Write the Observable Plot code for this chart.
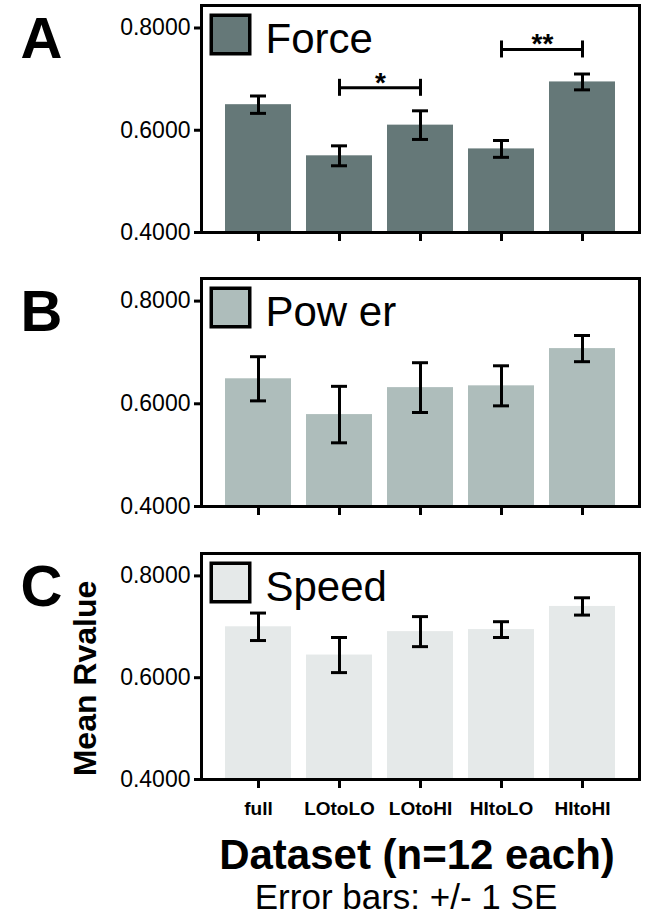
<!DOCTYPE html>
<html>
<head>
<meta charset="utf-8">
<script src="https://cdn.jsdelivr.net/npm/d3@7"></script>
<script src="https://cdn.jsdelivr.net/npm/@observablehq/plot@0.6"></script>
<style>
  html, body { margin: 0; padding: 0; background: #fff; }
  #wrap { position: relative; width: 654px; height: 922px; overflow: hidden; background: #fff;
          font-family: "Liberation Sans", Arial, sans-serif; color: #000; }
  .panel { position: absolute; left: 0; }
  .cap { position: absolute; left: 117px; width: 600px; text-align: center; line-height: 1; white-space: nowrap; }
</style>
</head>
<body>
<div id="wrap"></div>
<script>
// ---------------- data ----------------
const categories = ["full", "LOtoLO", "LOtoHI", "HItoLO", "HItoHI"];
const forceMean = [0.650, 0.550, 0.610, 0.5635, 0.6945];
const forceSE   = [0.017, 0.0195, 0.028, 0.0165, 0.0155];
const powerMean = [0.6487, 0.579, 0.6315, 0.635, 0.7075];
const powerSE   = [0.043, 0.055, 0.0485, 0.039, 0.0255];
const speedMean = [0.700, 0.6445, 0.6905, 0.6945, 0.740];
const speedSE   = [0.027, 0.0345, 0.0295, 0.0155, 0.017];
const yTicks = [0.4, 0.6, 0.8];
const yDomain = [0.4, 0.844];
const panelLetters = ["A", "B", "C"];
const seriesNames = ["Force", "Pow er", "Speed"];
const seriesColors = ["#657878", "#aebdbb", "#e5e9e9"];
const sigFrom = ["LOtoLO", "HItoLO"];
const sigTo = ["LOtoHI", "HItoHI"];
const sigLabel = ["*", "**"];
const sigLevel = [0.683, 0.758];
const yLabel = "Mean Rvalue";
const xTitle = "Dataset (n=12 each)";
const note = "Error bars: +/- 1 SE";

// ---------------- layout ----------------
const W = 654, ML = 201, MR = 15;
const padIn = 0.185, padOut = 0.27;
const step = (W - ML - MR) / (categories.length - padIn + 2 * padOut);
const panels = [
  {top: 0,   height: 260, mt: 5,  mb: 28},
  {top: 260, height: 270, mt: 18, mb: 24},
  {top: 530, height: 300, mt: 23, mb: 51}
];
const means = [forceMean, powerMean, speedMean];
const ses = [forceSE, powerSE, speedSE];
const wrap = document.getElementById("wrap");

panels.forEach((p, i) => {
  const rows = categories.map((c, k) => ({cat: c, mean: means[i][k], lo: means[i][k] - ses[i][k], hi: means[i][k] + ses[i][k]}));
  const plotH = p.height - p.mt - p.mb;
  const pxPerUnit = plotH / (yDomain[1] - yDomain[0]);
  const capV = 8.5 / pxPerUnit;
  const color = seriesColors[i];
  const lastPanel = i === panels.length - 1;
  const bx0 = 9.75, by0 = 9.75, bs = 38.5;
  const marks = [
    Plot.barY(rows, {x: "cat", y1: yDomain[0], y2: "mean", fill: color}),
    Plot.ruleX(rows, {x: "cat", y1: "lo", y2: "hi", stroke: "#000", strokeWidth: 3}),
    Plot.tickY(rows, {x: "cat", y: "lo", stroke: "#000", strokeWidth: 3, insetLeft: 25, insetRight: 25}),
    Plot.tickY(rows, {x: "cat", y: "hi", stroke: "#000", strokeWidth: 3, insetLeft: 25, insetRight: 25}),
    Plot.frame({stroke: "#000", strokeWidth: 3}),
    Plot.axisY({ticks: yTicks, tickFormat: d3.format(".4f"), tickSize: 7, tickPadding: 4, strokeWidth: 3, fontSize: 23, label: null}),
    Plot.axisX({tickSize: 9, strokeWidth: 3, tickPadding: 13, fontSize: 19, fontWeight: "bold", label: null,
                tickFormat: lastPanel ? (d => d) : (() => "")}),
    Plot.text([panelLetters[i]], {frameAnchor: "top-left", dx: -181, dy: 11, fontSize: 58, fontWeight: "bold",
               fontFamily: "'Liberation Sans Narrow', 'Liberation Sans', Arial, sans-serif", lineAnchor: "top", textAnchor: "start"}),
    Plot.frame({fill: color, stroke: "#000", strokeWidth: 3.5,
                insetLeft: bx0, insetTop: by0, insetRight: (W - ML - MR) - bx0 - bs, insetBottom: plotH - by0 - bs}),
    Plot.text([seriesNames[i]], {frameAnchor: "top-left", dx: 64, dy: 47.5, fontSize: 42, lineAnchor: "bottom", textAnchor: "start"})
  ];
  if (i === 0) {
    const sig = sigFrom.map((a, k) => ({a, b: sigTo[k], y: sigLevel[k], label: sigLabel[k]}));
    marks.push(
      Plot.link(sig, {x1: "a", x2: "b", y1: "y", y2: "y", stroke: "#000", strokeWidth: 3}),
      Plot.ruleX(sig, {x: "a", y1: d => d.y - capV, y2: d => d.y + capV, stroke: "#000", strokeWidth: 3}),
      Plot.ruleX(sig, {x: "b", y1: d => d.y - capV, y2: d => d.y + capV, stroke: "#000", strokeWidth: 3}),
      Plot.text(sig, {x: "a", y: "y", text: "label", dx: step / 2, dy: 4, lineAnchor: "bottom", fontSize: 28, fontWeight: "bold"})
    );
  }
  if (lastPanel) {
    marks.push(Plot.text([yLabel], {frameAnchor: "left", dx: -116, dy: 12, rotate: -90, fontSize: 32, fontWeight: "bold",
                                    lineAnchor: "middle", textAnchor: "middle"}));
  }
  const chart = Plot.plot({
    width: W, height: p.height,
    marginLeft: ML, marginRight: MR, marginTop: p.mt, marginBottom: p.mb,
    x: {type: "band", domain: categories, paddingInner: padIn, paddingOuter: padOut},
    y: {domain: yDomain},
    style: {fontFamily: "'Liberation Sans', Arial, sans-serif", background: "transparent", color: "#000", overflow: "visible"},
    marks
  });
  chart.classList.add("panel");
  chart.style.top = p.top + "px";
  wrap.appendChild(chart);
});

const t1 = document.createElement("div");
t1.className = "cap";
t1.style.cssText += "top:834px;font-size:42px;font-weight:bold;";
t1.textContent = xTitle;
wrap.appendChild(t1);
const t2 = document.createElement("div");
t2.className = "cap";
t2.style.cssText += "top:879px;font-size:35px;left:106px;";
t2.textContent = note;
wrap.appendChild(t2);
</script>
</body>
</html>
